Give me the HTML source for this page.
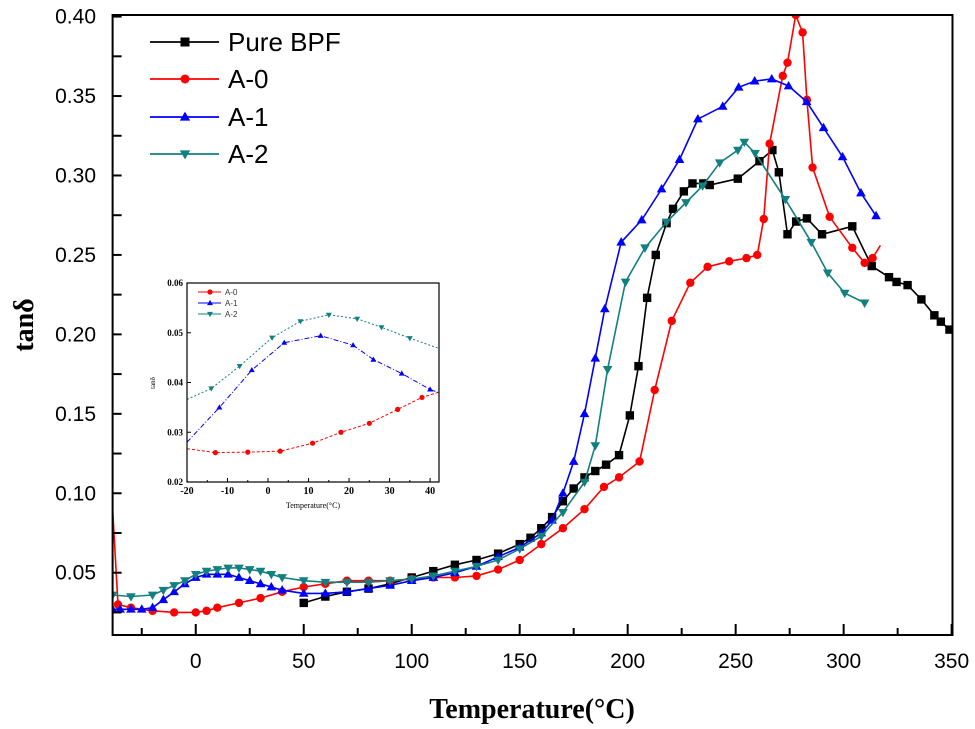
<!DOCTYPE html>
<html><head><meta charset="utf-8"><style>
html,body{margin:0;padding:0;background:#fff;}
svg{display:block;}
</style></head><body>
<svg id="chart" width="975" height="729" xmlns="http://www.w3.org/2000/svg">
<g id="plot"></g>
</svg>
<script>
// ---- Main chart data ----
const bpfT = [50,60,70,80,90,100,110,120,130,140,150,155,160,165,170,175,180,185,190,196,201,205,209,213,218,221,226,230,235,238,251,261,267,270,274,278,283,290,304,313,321,324.5,329.6,336,342,345,349];
const bpfV = [0.031,0.035,0.038,0.040,0.043,0.047,0.051,0.055,0.058,0.062,0.068,0.072,0.078,0.085,0.095,0.103,0.110,0.114,0.118,0.124,0.149,0.18,0.223,0.25,0.270,0.279,0.29,0.295,0.295,0.294,0.298,0.309,0.316,0.302,0.263,0.271,0.273,0.263,0.268,0.243,0.236,0.233,0.231,0.222,0.212,0.208,0.203];
const a0T = [-38.5,-36,-30,-20,-10,0,5,10,20,30,40,50,60,70,80,90,100,110,120,130,140,150,160,170,180,189,196,205.5,212.5,220.4,229,237,247,255,260,263,265.7,271.8,274,277.8,281,283,285.6,293.5,304,309.7,313.4,317];
const a0V = [0.09,0.03,0.028,0.026,0.025,0.025,0.026,0.028,0.031,0.034,0.038,0.041,0.043,0.045,0.045,0.045,0.046,0.047,0.047,0.048,0.052,0.058,0.068,0.078,0.090,0.104,0.110,0.120,0.165,0.2085,0.2325,0.2425,0.246,0.248,0.25,0.2726,0.32,0.3627,0.371,0.401,0.39,0.3476,0.305,0.274,0.2545,0.245,0.248,0.256];
const a1T = [-38.5,-35,-30,-25,-20,-15,-10,-5,0,5,10,15,20,25,30,35,40,50,60,70,80,90,100,110,120,130,140,150,160,165,170,175,180,185,189.4,197,206.5,215.7,224,232.5,244,251.4,258.8,266.7,274.5,282.9,290.7,299.5,308,315];
const a1V = [0.027,0.027,0.027,0.027,0.028,0.033,0.038,0.043,0.047,0.049,0.049,0.049,0.047,0.045,0.043,0.041,0.039,0.037,0.037,0.038,0.040,0.042,0.045,0.047,0.050,0.054,0.060,0.066,0.075,0.083,0.100,0.120,0.150,0.185,0.216,0.258,0.272,0.2915,0.31,0.3355,0.3435,0.3555,0.3594,0.3607,0.3563,0.3464,0.33,0.3117,0.289,0.2746];
const a2T = [-38.5,-30,-20,-15,-10,-5,0,5,10,15,20,25,30,35,40,50,60,70,80,90,100,110,120,130,140,150,160,170,180,185,190.7,199,208,218,227,234.7,242.6,251,254,259,273,285,292.6,300.5,309.7];
const a2V = [0.036,0.035,0.036,0.039,0.042,0.045,0.049,0.051,0.052,0.053,0.053,0.052,0.051,0.049,0.047,0.045,0.044,0.044,0.044,0.045,0.046,0.048,0.051,0.054,0.058,0.065,0.073,0.088,0.107,0.130,0.178,0.233,0.2545,0.2707,0.283,0.2935,0.308,0.316,0.321,0.314,0.285,0.258,0.2387,0.226,0.2198];
const xTicks = [0,50,100,150,200,250,300,350];
const xTickLabels = ["0","50","100","150","200","250","300","350"];
const yTicks = [0.05,0.10,0.15,0.20,0.25,0.30,0.35,0.40];
const yTickLabels = ["0.05","0.10","0.15","0.20","0.25","0.30","0.35","0.40"];
// ---- Inset data ----
const inA0T = [-20,-13,-5,3,11,18,25,32,38,42];
const inA0V = [0.0267,0.0259,0.026,0.0262,0.0278,0.030,0.0318,0.0346,0.037,0.038];
const inA1T = [-20,-12,-4,4,13,21,26,33,40,42];
const inA1V = [0.028,0.035,0.0425,0.048,0.0494,0.0475,0.0446,0.0418,0.0386,0.038];
const inA2T = [-20,-14,-7,1,8,15,22,28,35,42];
const inA2V = [0.0366,0.0388,0.0433,0.049,0.0523,0.0536,0.0528,0.0511,0.0489,0.0469];
const inXTicks = [-20,-10,0,10,20,30,40];
const inXTickLabels = ["-20","-10","0","10","20","30","40"];
const inYTicks = [0.02,0.03,0.04,0.05,0.06];
const inYTickLabels = ["0.02","0.03","0.04","0.05","0.06"];

const NS='http://www.w3.org/2000/svg';
const g=document.getElementById('plot');
function el(tag,attrs,parent){const e=document.createElementNS(NS,tag);for(const k in attrs)e.setAttribute(k,attrs[k]);(parent||g).appendChild(e);return e;}

// axes mapping
const X0=112.6,X1=952.5,Y0=635,Y1=15;
const xmin=-38.5,xmax=350.4,ymin=0.0108,ymax=0.401;
const xs=t=>X0+(t-xmin)/(xmax-xmin)*(X1-X0);
const ys=v=>Y0-(v-ymin)/(ymax-ymin)*(Y0-Y1);

function marker(type,cx,cy,color,s,parent){
  let m;
  if(type==='square') m=el('rect',{x:cx-s,y:cy-s,width:2*s,height:2*s,fill:color},parent);
  else if(type==='circle') m=el('circle',{cx:cx,cy:cy,r:s,fill:color},parent);
  else if(type==='up') m=el('polygon',{points:`${cx},${cy-s*1.2} ${cx-s*1.15},${cy+s*0.8} ${cx+s*1.15},${cy+s*0.8}`,fill:color},parent);
  else m=el('polygon',{points:`${cx},${cy+s*1.2} ${cx-s*1.15},${cy-s*0.8} ${cx+s*1.15},${cy-s*0.8}`,fill:color},parent);
  return m;
}

const clip=el('clipPath',{id:'mainclip'});
el('rect',{x:X0,y:Y1,width:X1-X0,height:Y0-Y1},clip);

const series=[
 {name:'pure-bpf',T:bpfT,V:bpfV,c:'#000',m:'square'},
 {name:'a-0',T:a0T,V:a0V,c:'#ff0000',m:'circle'},
 {name:'a-1',T:a1T,V:a1V,c:'#0000ff',m:'up'},
 {name:'a-2',T:a2T,V:a2V,c:'#128080',m:'down'}
];
series.forEach(s=>{
  const sg=el('g',{'clip-path':'url(#mainclip)'});
  
  
  const d=s.T.map((t,i)=>(i?'L':'M')+xs(t).toFixed(1)+','+ys(s.V[i]).toFixed(1)).join(' ');
  const p=el('path',{d:d,fill:'none',stroke:s.c,'stroke-width':1.6},sg);
  
  
  s.T.forEach((t,i)=>{
    if(s.name==='a-0' && (i===0||i===s.T.length-1)) return;
    const mk=marker(s.m,xs(t),ys(s.V[i]),s.c,4.2,sg);
    
    
  });
});

// frame
const frame=el('rect',{x:X0,y:Y1,width:X1-X0,height:Y0-Y1,fill:'none',stroke:'#000','stroke-width':2});


// x ticks
for(let t=-25;t<=350;t+=25){
  const major=t%50===0;
  el('line',{x1:xs(t),x2:xs(t),y1:Y0,y2:Y0-(major?11:7),stroke:'#000','stroke-width':2});
}
xTicks.forEach((t,i)=>{
  const tx=el('text',{x:xs(t),y:668,'text-anchor':'middle','font-family':'Liberation Sans, sans-serif','font-size':21,fill:'#000'});
  tx.textContent=xTickLabels[i];
  
  
});
// y ticks
for(let v=0.025;v<=0.4001;v+=0.025){
  el('line',{x1:X0,x2:X0+9,y1:ys(v),y2:ys(v),stroke:'#000','stroke-width':2});
}
yTicks.forEach((v,i)=>{
  const tx=el('text',{x:96,y:ys(v)+7,'text-anchor':'end','font-family':'Liberation Sans, sans-serif','font-size':21,fill:'#000'});
  tx.textContent=yTickLabels[i];
  
  
});
const xt=el('text',{x:532,y:718,'text-anchor':'middle','font-family':'Liberation Serif, serif','font-size':28,'font-weight':'bold',fill:'#000'});
xt.textContent='Temperature(°C)';


const yt=el('text',{x:0,y:0,transform:'translate(33,325) rotate(-90)','text-anchor':'middle','font-family':'Liberation Serif, serif','font-size':28,'font-weight':'bold',fill:'#000'});
yt.textContent='tanδ';



// legend
const legY=[42,79,117,154];
const legLabels=['Pure BPF','A-0','A-1','A-2'];
series.forEach((s,i)=>{
  const lg=el('g',{});
  
  
  el('line',{x1:150,x2:219,y1:legY[i],y2:legY[i],stroke:s.c,'stroke-width':1.8},lg);
  marker(s.m,185,legY[i],s.c,4.5,lg);
  const tx=el('text',{x:228,y:legY[i]+9,'font-family':'Liberation Sans, sans-serif','font-size':26,fill:'#000'},lg);
  tx.textContent=legLabels[i];
});

// ---- Inset ----
const IX0=187,IX1=439,IY0=482,IY1=283;
const ixs=t=>IX0+(t+20)/62.2*(IX1-IX0);
const iys=v=>IY0-(v-0.02)/0.04*(IY0-IY1);
const ig=el('g',{});


const iclip=el('clipPath',{id:'inclip'},ig);
el('rect',{x:IX0,y:IY1,width:IX1-IX0,height:IY0-IY1},iclip);
const inSeries=[
 {name:'inset-a-0',T:inA0T,V:inA0V,c:'#ff0000',m:'circle',dash:'3,2'},
 {name:'inset-a-1',T:inA1T,V:inA1V,c:'#0000ff',m:'up',dash:'5,2,1,2'},
 {name:'inset-a-2',T:inA2T,V:inA2V,c:'#128080',m:'down',dash:'2,2'}
];
inSeries.forEach(s=>{
  const sg=el('g',{'clip-path':'url(#inclip)'},ig);
  
  
  const d=s.T.map((t,i)=>(i?'L':'M')+ixs(t).toFixed(1)+','+iys(s.V[i]).toFixed(1)).join(' ');
  el('path',{d:d,fill:'none',stroke:s.c,'stroke-width':1,'stroke-dasharray':s.dash},sg);
  s.T.forEach((t,i)=>{
    if(i===0||i===s.T.length-1) return;
    const mk=marker(s.m,ixs(t),iys(s.V[i]),s.c,2.6,sg);
    
    
  });
});
el('rect',{x:IX0,y:IY1,width:IX1-IX0,height:IY0-IY1,fill:'none',stroke:'#000','stroke-width':1.2},ig);
inXTicks.forEach((t,i)=>{
  el('line',{x1:ixs(t),x2:ixs(t),y1:IY0,y2:IY0-4,stroke:'#000','stroke-width':1},ig);
  if(i<inXTicks.length-1) el('line',{x1:ixs(t+5),x2:ixs(t+5),y1:IY0,y2:IY0-2,stroke:'#000','stroke-width':1},ig);
  const tx=el('text',{x:ixs(t),y:IY0+12,'text-anchor':'middle','font-family':'Liberation Serif, serif','font-size':10,'font-weight':'bold',fill:'#000'},ig);
  tx.textContent=inXTickLabels[i];
});
inYTicks.forEach((v,i)=>{
  el('line',{x1:IX0,x2:IX0+4,y1:iys(v),y2:iys(v),stroke:'#000','stroke-width':1},ig);
  const tx=el('text',{x:IX0-4,y:iys(v)+3,'text-anchor':'end','font-family':'Liberation Serif, serif','font-size':9,'font-weight':'bold',fill:'#000'},ig);
  tx.textContent=inYTickLabels[i];
});
const ixt=el('text',{x:313,y:508,'text-anchor':'middle','font-family':'Liberation Serif, serif','font-size':8,fill:'#000'},ig);
ixt.textContent='Temperature(°C)';
const iyt=el('text',{x:0,y:0,transform:'translate(155,383) rotate(-90)','text-anchor':'middle','font-family':'Liberation Serif, serif','font-size':7,fill:'#000'},ig);
iyt.textContent='tanδ';
const inLeg=['A-0','A-1','A-2'];
inSeries.forEach((s,i)=>{
  const y=292+i*11;
  el('line',{x1:198,x2:221,y1:y,y2:y,stroke:s.c,'stroke-width':1},ig);
  marker(s.m,210,y,s.c,2.6,ig);
  const tx=el('text',{x:225,y:y+3,'font-family':'Liberation Sans, sans-serif','font-size':8,fill:'#333'},ig);
  tx.textContent=inLeg[i];
});
</script>
</body></html>
